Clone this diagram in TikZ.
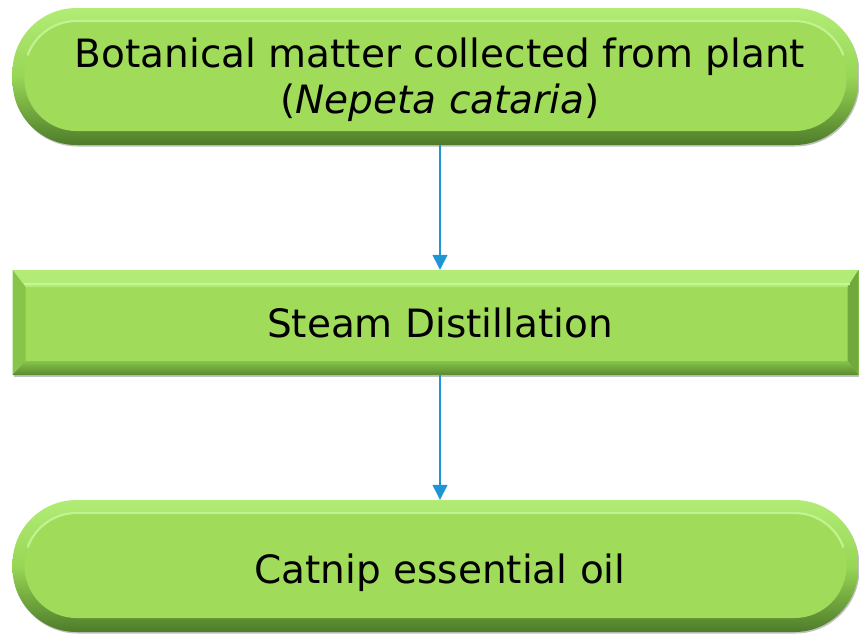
\documentclass[tikz,border=0pt]{standalone}
\usepackage{fontspec}
\setmainfont{DejaVu Sans}
\usetikzlibrary{arrows.meta,shadows}
\definecolor{gmain}{HTML}{A0DC5A}
\definecolor{glight}{HTML}{B2EC76}
\definecolor{gdark}{HTML}{4E7C2A}
\definecolor{gmid}{HTML}{98D655}
\definecolor{gleft}{HTML}{86C44A}
\definecolor{gright}{HTML}{70AA3C}
\definecolor{gbot}{HTML}{5A8A30}
\definecolor{ghi}{HTML}{C6F698}
\definecolor{ablue}{HTML}{1E96D6}
\begin{document}
\begin{tikzpicture}[x=1pt,y=-1pt,
  txt/.style={font=\fontsize{39}{46}\selectfont, align=center, text=black},
  pill/.style={txt, rectangle, rounded corners=64pt, minimum width=846pt, inner sep=0pt,
    top color=glight, bottom color=gdark, middle color=gmid,
    drop shadow={shadow xshift=1pt, shadow yshift=-1.5pt, opacity=0.4, fill=black!60},
    path picture={
      \fill[gmain, rounded corners=52pt]
        ([shift={(12pt,-13pt)}]path picture bounding box.north west) rectangle
        ([shift={(-12pt,14pt)}]path picture bounding box.south east);
      \begin{scope}
        \clip (path picture bounding box.north west) rectangle
          ([yshift=-70pt]path picture bounding box.north east);
        \draw[ghi, line width=2.2pt, opacity=0.85, rounded corners=52pt]
          ([shift={(12pt,-13pt)}]path picture bounding box.north west) rectangle
          ([shift={(-12pt,14pt)}]path picture bounding box.south east);
      \end{scope}
    }},
  bevelbox/.style={txt, rectangle, minimum width=846pt, inner sep=0pt, fill=gmain,
    drop shadow={shadow xshift=1pt, shadow yshift=-1.5pt, opacity=0.4, fill=black!60},
    path picture={
      \coordinate (pNW) at (path picture bounding box.north west);
      \coordinate (pNE) at (path picture bounding box.north east);
      \coordinate (pSW) at (path picture bounding box.south west);
      \coordinate (pSE) at (path picture bounding box.south east);
      \coordinate (qNW) at ([shift={(13pt,-17pt)}]pNW);
      \coordinate (qNE) at ([shift={(-11pt,-17pt)}]pNE);
      \coordinate (qSW) at ([shift={(13pt,14pt)}]pSW);
      \coordinate (qSE) at ([shift={(-11pt,14pt)}]pSE);
      \fill[glight] (pNW) -- (pNE) -- (qNE) -- (qNW) -- cycle;
      \fill[gleft] (pNW) -- (qNW) -- (qSW) -- (pSW) -- cycle;
      \fill[gright] (pNE) -- (qNE) -- (qSE) -- (pSE) -- cycle;
      \shade[top color=gleft, bottom color=gbot] (pSW) -- (pSE) -- (qSE) -- (qSW) -- cycle;
      \draw[ghi, line width=2pt] ([shift={(-2pt,3pt)}]qNW) -- ([shift={(2pt,3pt)}]qNE);
    }},
  arr/.style={draw=ablue, line width=1.4pt, -{Triangle[width=15pt,length=15pt]}}
]
\useasboundingbox (0,0) rectangle (859,635);
\node[pill, minimum height=137pt] (top) at (435.5,76.5)
  {\hspace*{9pt}\rule{0pt}{36pt}Botanical matter collected from plant\\\hspace*{9pt}(\textit{Nepeta cataria})};
\node[bevelbox, minimum height=105pt] (mid) at (435.5,322.5)
  {\hspace*{9pt}Steam Distillation};
\node[pill, minimum height=132pt] (bot) at (435.5,566)
  {\hspace*{9pt}\rule{0pt}{43pt}Catnip essential oil};
\draw[arr] ([xshift=4.5pt]top.south) -- ([xshift=4.5pt]mid.north);
\draw[arr] ([xshift=4.5pt]mid.south) -- ([xshift=4.5pt]bot.north);
\end{tikzpicture}
\end{document}
